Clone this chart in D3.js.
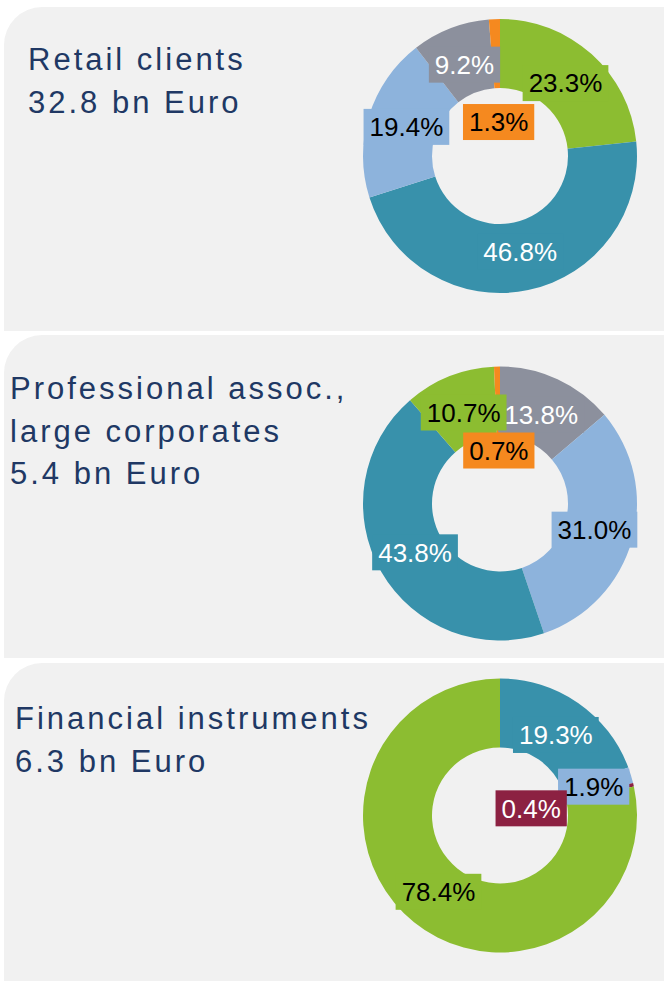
<!DOCTYPE html>
<html>
<head>
<meta charset="utf-8">
<script src="https://cdn.jsdelivr.net/npm/d3@7"></script>
<style>
  body { margin: 0; background: #ffffff; }
  svg { display: block; font-family: "Liberation Sans", Arial, sans-serif; }
</style>
</head>
<body>
<div id="chart"></div>
<script>
// segment categories (no legend in the source, colours identify them)
const categories = ["Cat 1", "Cat 2", "Cat 3", "Cat 4", "Cat 5", "Cat 6"];

const retailTitle = ["Retail clients", "32.8 bn Euro"];
const retailCats = ["Cat 1", "Cat 2", "Cat 3", "Cat 4", "Cat 5"];
const retailValues = [23.3, 46.8, 19.4, 9.2, 1.3];

const profTitle = ["Professional assoc.,", "large corporates", "5.4 bn Euro"];
const profCats = ["Cat 4", "Cat 3", "Cat 2", "Cat 1", "Cat 5"];
const profValues = [13.8, 31.0, 43.8, 10.7, 0.7];

const finTitle = ["Financial instruments", "6.3 bn Euro"];
const finCats = ["Cat 2", "Cat 3", "Cat 6", "Cat 1"];
const finValues = [19.3, 1.9, 0.4, 78.4];

document.addEventListener("DOMContentLoaded", function () {
  const width = 664, height = 981;

  const color = d3.scaleOrdinal()
    .domain(categories)
    .range(["#8cbd31", "#3891ab", "#8db3dc", "#8c909d", "#f5891f", "#8c2142"]);

  const darkText = new Set(["Cat 1", "Cat 3", "Cat 5"]);

  // panel layout
  const panels = [
    { title: retailTitle, cats: retailCats, values: retailValues,
      top: 7, bottom: 331, cy: 156, tx: 28, ty: 70, smallR: 34 },
    { title: profTitle, cats: profCats, values: profValues,
      top: 335, bottom: 658, cy: 503.5, tx: 10, ty: 399, smallR: 53 },
    { title: finTitle, cats: finCats, values: finValues,
      top: 663, bottom: 990, cy: 815.5, tx: 15, ty: 729, smallR: 32 }
  ];

  const cx = 500, rOuter = 137, rInner = 68, labelR = 98, corner = 38;

  const svg = d3.select("#chart").append("svg")
    .attr("width", width)
    .attr("height", height);

  const pie = d3.pie().sort(null).value((d) => d.value);
  const arc = d3.arc().innerRadius(rInner).outerRadius(rOuter);

  panels.forEach((p) => {
    // background with rounded top-left corner
    svg.append("path")
      .attr("d", `M4,${p.top + corner} A${corner},${corner} 0 0 1 ${4 + corner},${p.top} H${width} V${p.bottom} H4 Z`)
      .attr("fill", "#f1f1f1");

    const title = svg.append("text")
      .attr("x", p.tx)
      .attr("y", p.ty)
      .attr("fill", "#203864")
      .style("font-size", "31px")
      .style("letter-spacing", "3px");
    title.selectAll("tspan")
      .data(p.title)
      .enter()
      .append("tspan")
      .attr("x", p.tx)
      .attr("dy", (d, i) => (i === 0 ? 0 : 42.5))
      .text((d) => d);

    const data = p.cats.map((c, i) => ({ cat: c, value: p.values[i] }));
    const arcs = pie(data);

    const g = svg.append("g").attr("transform", `translate(${cx},${p.cy})`);

    g.selectAll(".slice")
      .data(arcs)
      .enter()
      .append("path")
      .attr("class", "slice")
      .attr("d", arc)
      .attr("fill", (d) => color(d.data.cat));

    const labels = g.selectAll(".lbl")
      .data(arcs)
      .enter()
      .append("g")
      .attr("class", "lbl")
      .attr("transform", (d) => {
        const a = (d.startAngle + d.endAngle) / 2;
        const r = d.data.value < 1.5 ? p.smallR : labelR;
        return `translate(${Math.sin(a) * r},${-Math.cos(a) * r})`;
      });

    labels.append("rect")
      .attr("fill", (d) => color(d.data.cat));

    const texts = labels.append("text")
      .attr("text-anchor", "middle")
      .attr("dy", "0.36em")
      .style("font-size", "26px")
      .attr("fill", (d) => (darkText.has(d.data.cat) ? "#000000" : "#ffffff"))
      .text((d) => d.data.value.toFixed(1) + "%");

    texts.each(function (d) {
      const w = this.getComputedTextLength();
      d3.select(this.parentNode).select("rect")
        .attr("x", -w / 2 - 6)
        .attr("y", -18)
        .attr("width", w + 12)
        .attr("height", 36);
    });
  });
});
</script>
</body>
</html>
